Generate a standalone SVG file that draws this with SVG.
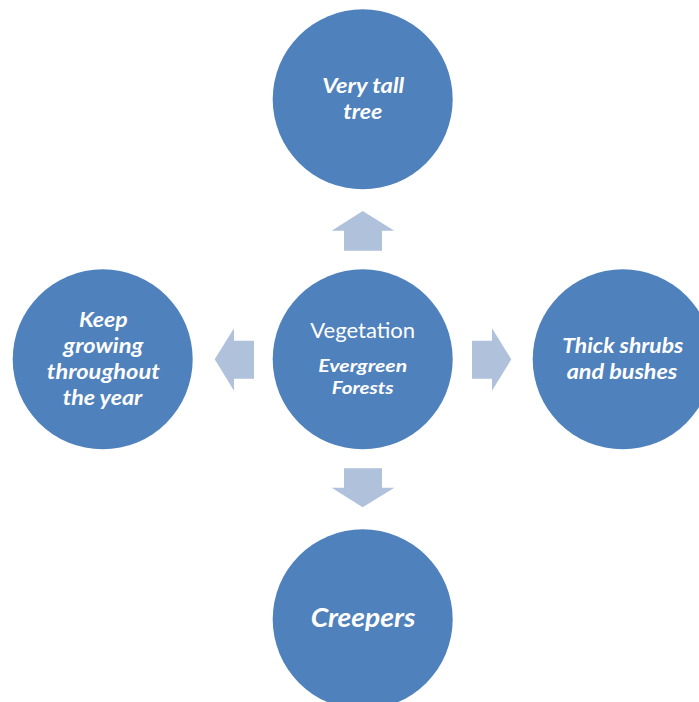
<svg xmlns="http://www.w3.org/2000/svg" width="699" height="702" viewBox="0 0 699 702">
<style>
.node{fill:#4F81BD}
.arr{fill:#B0C1DC}
text{fill:#FFFFFF;font-family:Lato,"Open Sans","Liberation Sans",sans-serif;text-anchor:middle}
.bi{font-weight:bold;font-style:italic;font-size:20px}
.reg{font-weight:normal;font-size:21px}
.sm{font-weight:bold;font-style:italic;font-size:16.5px}
.big{font-weight:bold;font-style:italic;font-size:26px}
</style>
<rect width="699" height="702" fill="#FFFFFF"/>
<g id="connectors">
<polygon class="arr" points="362.7,211 394.3,230.7 382,230.7 382,250.7 344,250.7 344,230.7 331.7,230.7"/>
<polygon class="arr" points="214.7,359.3 234,328.3 234,340.7 254,340.7 254,378.7 234,378.7 234,390.7"/>
<polygon class="arr" points="511.3,359.3 492,328.3 492,340.7 472,340.7 472,378.7 492,378.7 492,390.7"/>
<polygon class="arr" points="362.7,507.3 394.3,487.7 382,487.7 382,468.3 344,468.3 344,487.7 331.7,487.7"/>
</g>
<g id="center">
<circle class="node" cx="362.7" cy="359.3" r="90"/>
<text class="reg" x="362.7" y="337.7" textLength="105" lengthAdjust="spacingAndGlyphs">Vegetation</text>
<text class="sm" x="362.7" y="371.7" textLength="89" lengthAdjust="spacingAndGlyphs">Evergreen</text>
<text class="sm" x="362.7" y="394" textLength="61.7" lengthAdjust="spacingAndGlyphs">Forests</text>
</g>
<g id="top">
<circle class="node" cx="362.7" cy="99.3" r="90"/>
<text class="bi" x="363.3" y="93.3" textLength="82" lengthAdjust="spacingAndGlyphs">Very tall</text>
<text class="bi" x="362.8" y="119" textLength="39" lengthAdjust="spacingAndGlyphs">tree</text>
</g>
<g id="left">
<circle class="node" cx="102.7" cy="359.3" r="90"/>
<text class="bi" x="103.3" y="326.7" textLength="48.7" lengthAdjust="spacingAndGlyphs">Keep</text>
<text class="bi" x="103.3" y="352.7" textLength="80" lengthAdjust="spacingAndGlyphs">growing</text>
<text class="bi" x="103.3" y="378.7" textLength="113" lengthAdjust="spacingAndGlyphs">throughout</text>
<text class="bi" x="102.5" y="405" textLength="79.7" lengthAdjust="spacingAndGlyphs">the year</text>
</g>
<g id="right">
<circle class="node" cx="622.7" cy="359.3" r="90"/>
<text class="bi" x="622.8" y="352.7" textLength="121" lengthAdjust="spacingAndGlyphs">Thick shrubs</text>
<text class="bi" x="622" y="379.3" textLength="110.7" lengthAdjust="spacingAndGlyphs">and bushes</text>
</g>
<g id="bottom">
<circle class="node" cx="362.7" cy="619.3" r="90"/>
<text class="big" x="363" y="627.3" textLength="104.7" lengthAdjust="spacingAndGlyphs">Creepers</text>
</g>
</svg>
